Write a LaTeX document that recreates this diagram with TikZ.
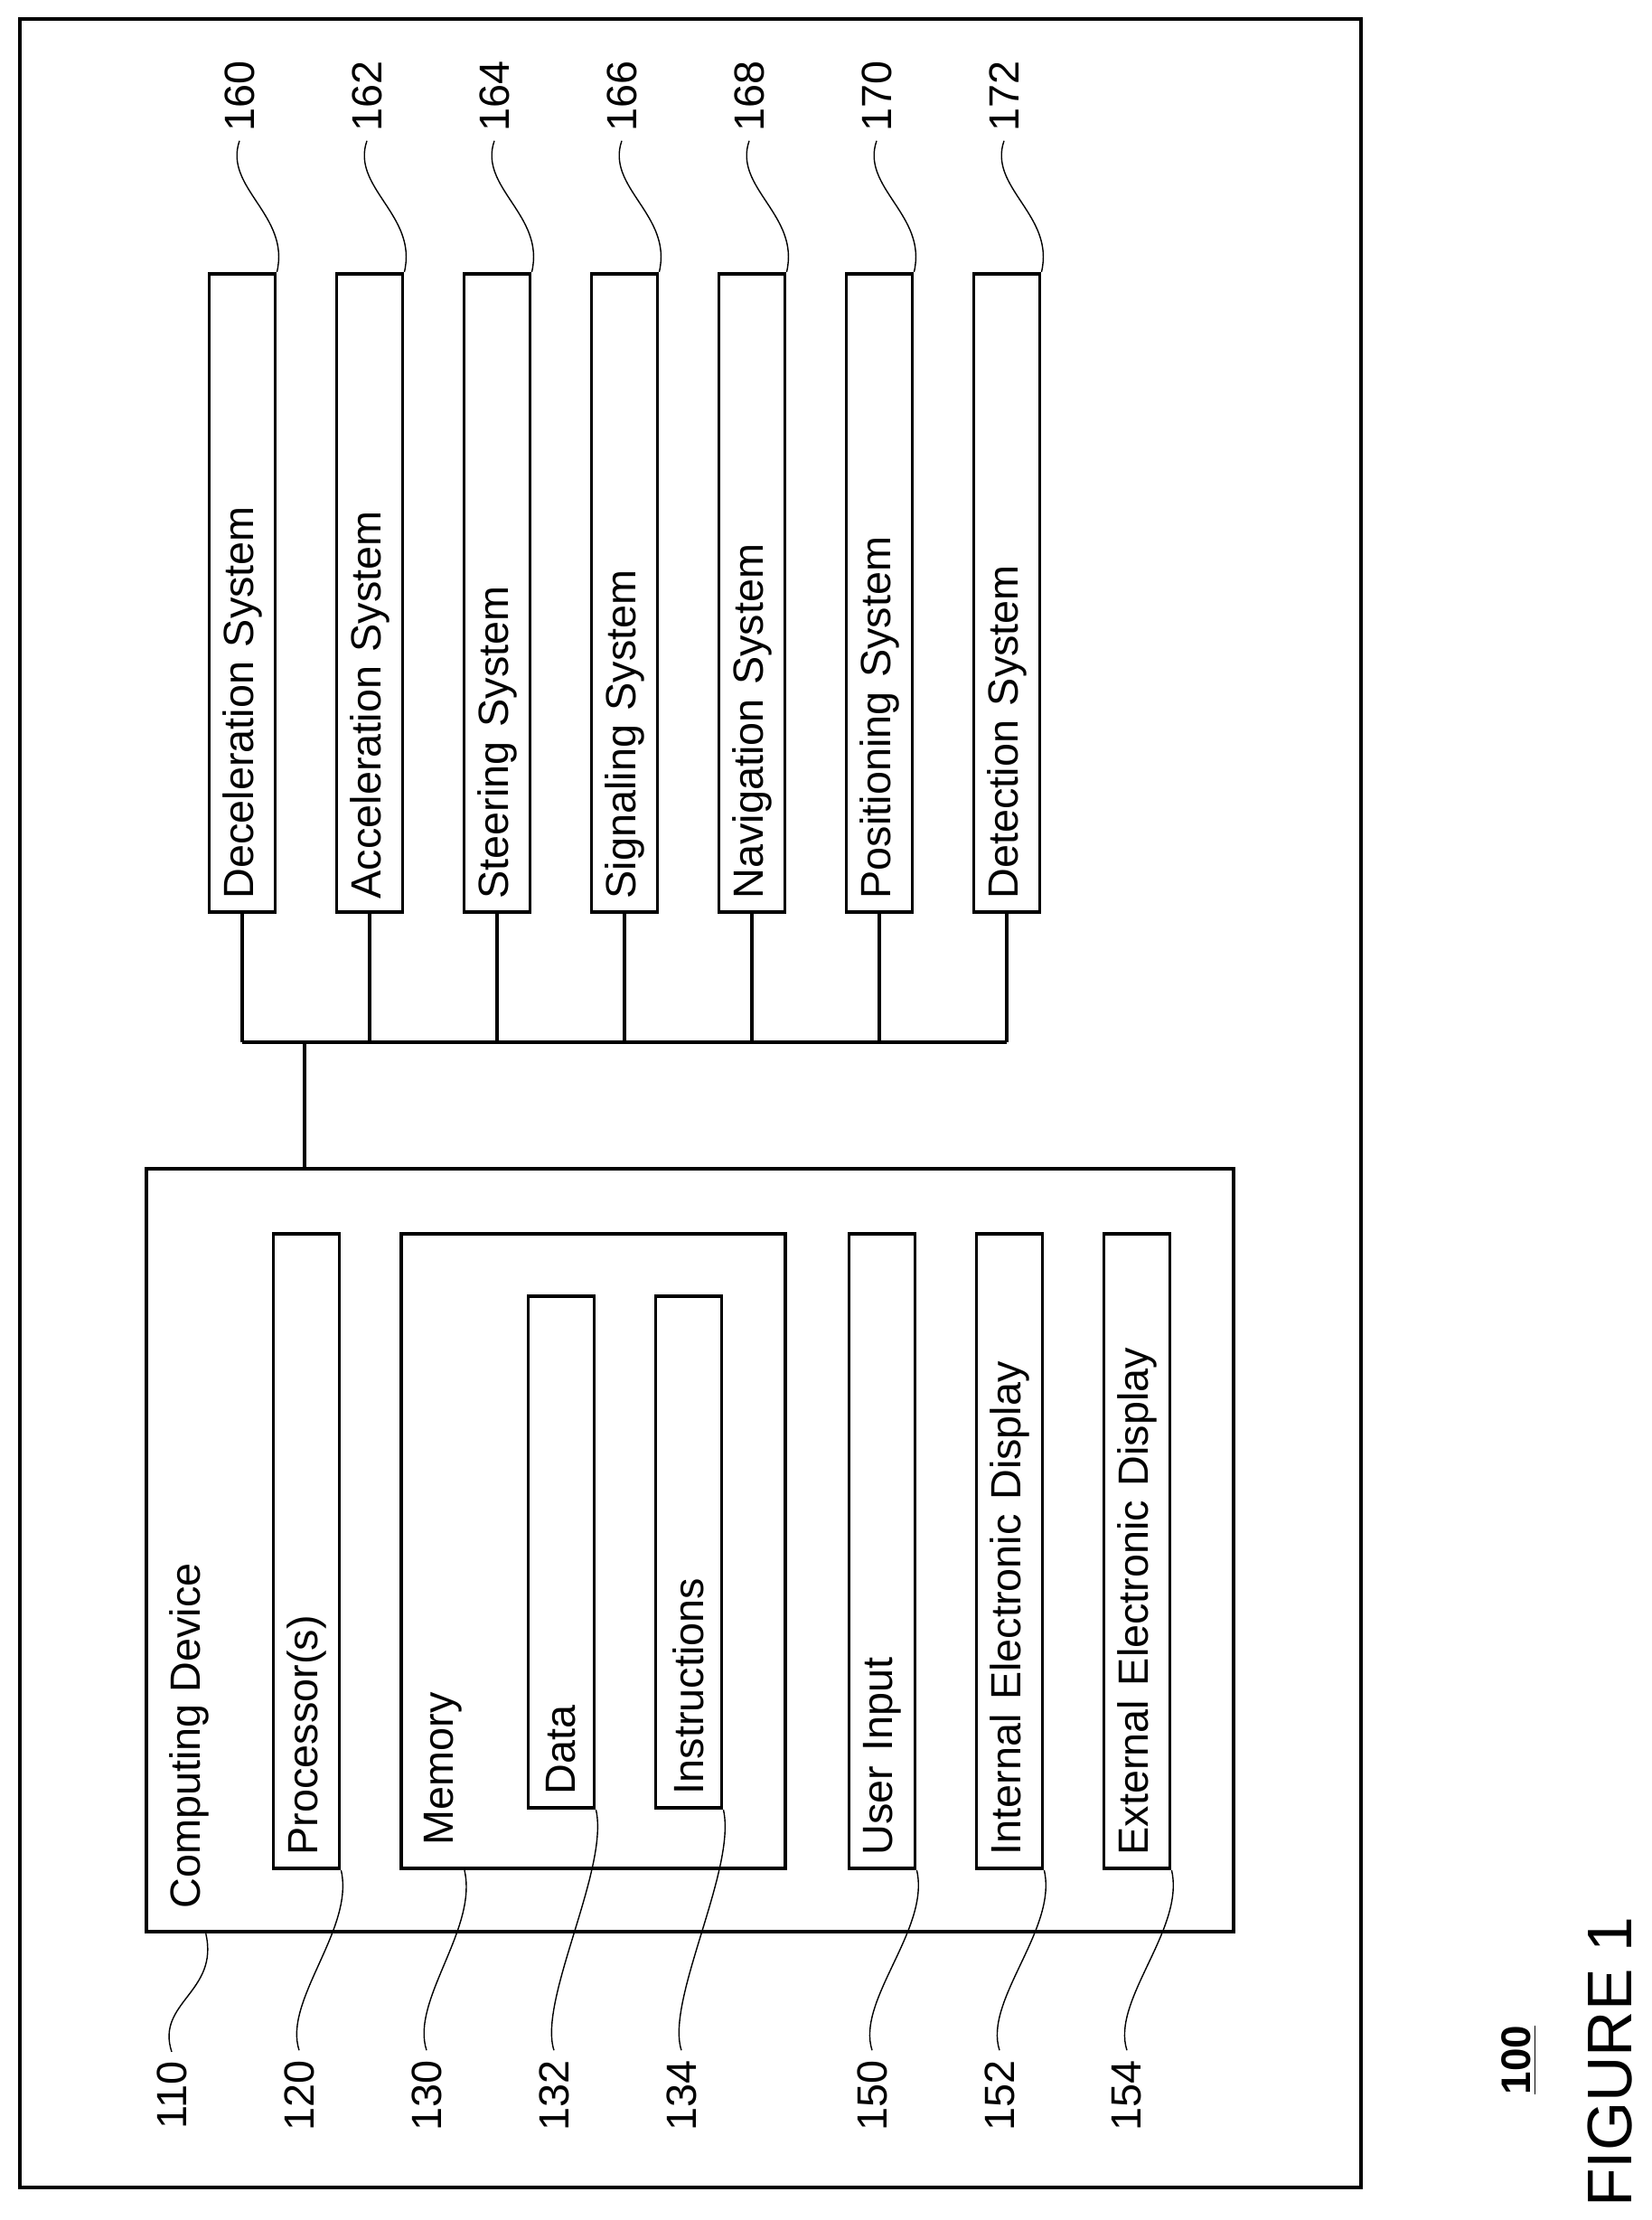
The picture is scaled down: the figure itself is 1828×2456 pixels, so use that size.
\documentclass[tikz,border=0pt]{standalone}
\usepackage{fontspec}
\setmainfont{Liberation Sans}
\usetikzlibrary{positioning}

\tikzset{
    strip/.style={draw,line width=1.1pt,rotate=90,minimum height=0.73cm,inner xsep=0.15cm,align=left},
    refnum/.style={rotate=90,inner sep=0.1cm},
    squig/.style={line width=0.4pt}
}

\begin{document}
\begin{tikzpicture}[x=0.01cm,y=-0.01cm,font=\fontsize{13.3}{16}\selectfont]

            \useasboundingbox (0,0) rectangle (1828,2456);
            \draw[line width=1.1pt] (22,21) rectangle (1506,2420);

            % systems along the top
            \path   (268,656) node (decel) [strip,text width=6.76cm] {Deceleration System}
                    (409,656) node (accel) [strip,text width=6.76cm] {Acceleration System}
                    (550,656) node (steer) [strip,text width=6.76cm] {Steering System}
                    (691,656) node (signal) [strip,text width=6.76cm] {Signaling System}
                    (832,656) node (navi) [strip,text width=6.76cm] {Navigation System}
                    (973,656) node (posi) [strip,text width=6.76cm] {Positioning System}
                    (1114,656) node (detect) [strip,text width=6.76cm] {Detection System};

            % computing device
            \path   (763.5,1715) node (comp) [draw,line width=1.1pt,minimum width=12.03cm,minimum height=8.44cm] {}
                    (177,2122) node [rotate=90,anchor=north west,inner sep=0.1cm] {Computing Device}
                    (339,1716) node (proc) [strip,text width=6.72cm] {Processor(s)}
                    (656.5,1716) node (mem) [draw,line width=1.1pt,minimum width=4.25cm,minimum height=7.02cm] {}
                    (459,2052) node [rotate=90,anchor=north west,inner sep=0.1cm] {Memory}
                    (621,1717) node (data) [strip,text width=5.36cm] {Data}
                    (762,1717) node (instr) [strip,text width=5.36cm] {Instructions}
                    (976,1716) node (uinput) [strip,text width=6.72cm] {User Input}
                    (1117,1716) node (intdisp) [strip,text width=6.72cm] {Internal Electronic Display}
                    (1258,1716) node (extdisp) [strip,text width=6.72cm] {External Electronic Display};

            % reference numerals
            \path   (265,106) node (n160) [refnum] {160}
                    (406,106) node (n162) [refnum] {162}
                    (547,106) node (n164) [refnum] {164}
                    (688,106) node (n166) [refnum] {166}
                    (829,106) node (n168) [refnum] {168}
                    (970,106) node (n170) [refnum] {170}
                    (1111,106) node (n172) [refnum] {172}
                    (190,2318) node (n110) [refnum] {110}
                    (331,2318) node (n120) [refnum] {120}
                    (472,2318) node (n130) [refnum] {130}
                    (613,2318) node (n132) [refnum] {132}
                    (754,2318) node (n134) [refnum] {134}
                    (965,2318) node (n150) [refnum] {150}
                    (1106,2318) node (n152) [refnum] {152}
                    (1247,2318) node (n154) [refnum] {154};

            \path   (1681,2279) node (fignum) [rotate=90,font=\fontsize{13}{16}\selectfont\bfseries] {\underline{100}}
                    (1782,2281) node (figtitle) [rotate=90,font=\fontsize{19.8}{24}\selectfont] {FIGURE 1};

            % bus
            \coordinate (bus) at (337,1153);
            \draw[line width=1.1pt] (decel.west) -- (decel.west |- bus);
            \draw[line width=1.1pt] (accel.west) -- (accel.west |- bus);
            \draw[line width=1.1pt] (steer.west) -- (steer.west |- bus);
            \draw[line width=1.1pt] (signal.west) -- (signal.west |- bus);
            \draw[line width=1.1pt] (navi.west) -- (navi.west |- bus);
            \draw[line width=1.1pt] (posi.west) -- (posi.west |- bus);
            \draw[line width=1.1pt] (detect.west) -- (detect.west |- bus);
            \draw[line width=1.1pt] (decel.west |- bus) -- (detect.west |- bus);
            \draw[line width=1.1pt] (bus) -- (bus |- comp.north);

            % lead lines
            \draw[squig] (n160.west) .. controls +(-18,52) and +(15,-63) .. (decel.south east);
            \draw[squig] (n162.west) .. controls +(-18,52) and +(15,-63) .. (accel.south east);
            \draw[squig] (n164.west) .. controls +(-18,52) and +(15,-63) .. (steer.south east);
            \draw[squig] (n166.west) .. controls +(-18,52) and +(15,-63) .. (signal.south east);
            \draw[squig] (n168.west) .. controls +(-18,52) and +(15,-63) .. (navi.south east);
            \draw[squig] (n170.west) .. controls +(-18,52) and +(15,-63) .. (posi.south east);
            \draw[squig] (n172.west) .. controls +(-18,52) and +(15,-63) .. (detect.south east);
            \draw[squig] (n110.east) .. controls +(-18,-55) and +(15,65) .. ([xshift=0.68cm]comp.south west);
            \draw[squig] (n120.east) .. controls +(-18,-55) and +(15,65) .. (proc.south west);
            \draw[squig] (n130.east) .. controls +(-18,-55) and +(15,65) .. ([xshift=0.72cm]mem.south west);
            \draw[squig] (n132.east) .. controls +(-18,-55) and +(15,65) .. (data.south west);
            \draw[squig] (n134.east) .. controls +(-18,-55) and +(15,65) .. (instr.south west);
            \draw[squig] (n150.east) .. controls +(-18,-55) and +(15,65) .. (uinput.south west);
            \draw[squig] (n152.east) .. controls +(-18,-55) and +(15,65) .. (intdisp.south west);
            \draw[squig] (n154.east) .. controls +(-18,-55) and +(15,65) .. (extdisp.south west);

\end{tikzpicture}
\end{document}
